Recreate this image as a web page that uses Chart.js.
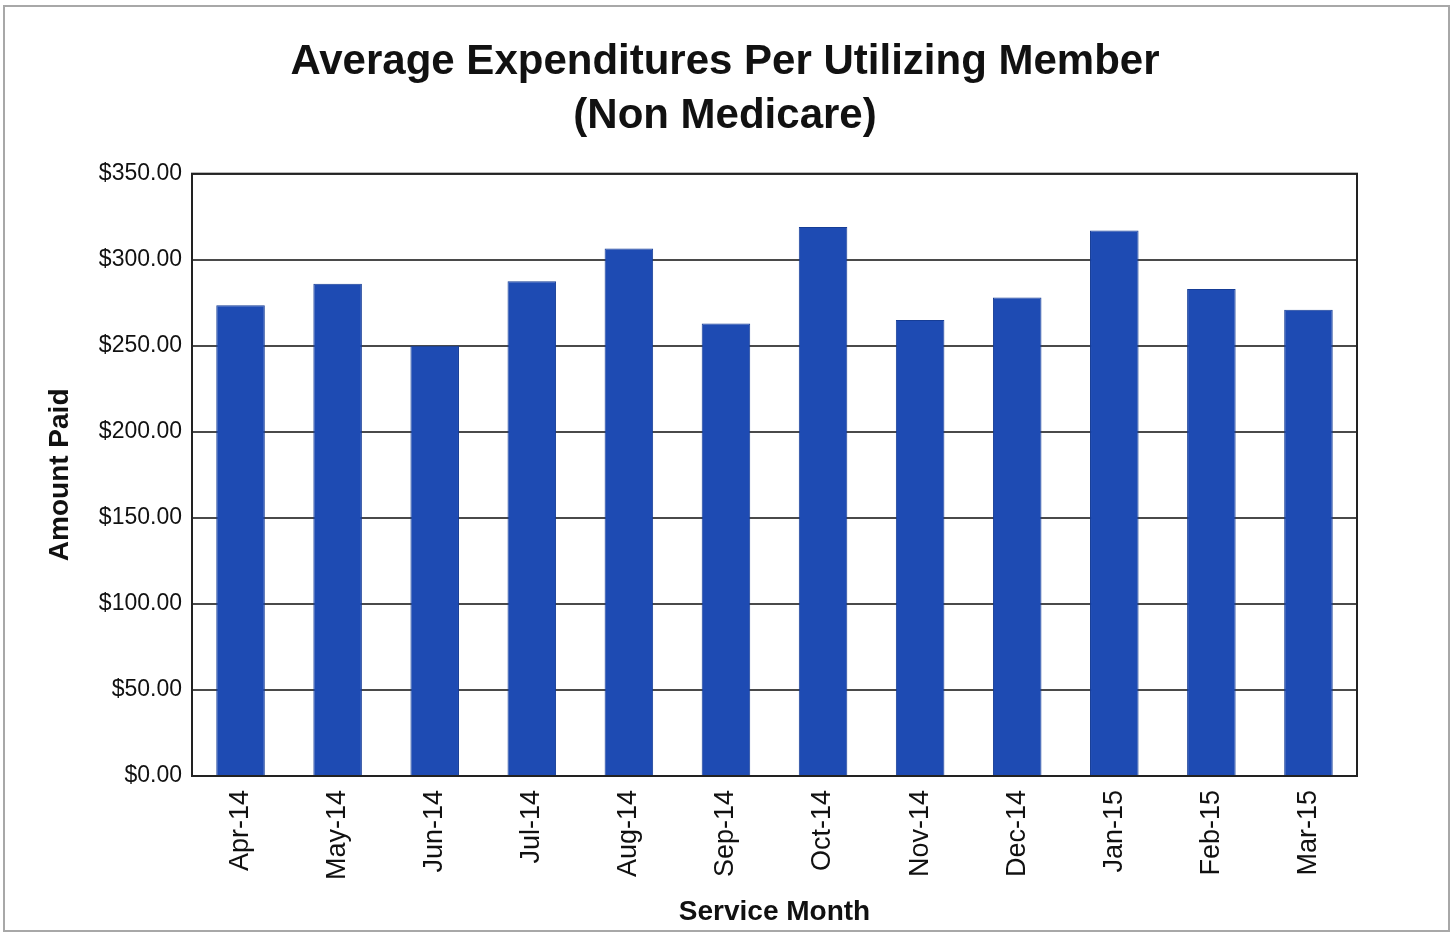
<!DOCTYPE html>
<html>
<head>
<meta charset="utf-8">
<script src="https://cdn.jsdelivr.net/npm/chart.js@4/dist/chart.umd.min.js"></script>
<style>
  html, body { margin: 0; padding: 0; background: #fff; }
  #frame {
    position: absolute; left: 3px; top: 5px;
    width: 1447px; height: 927px;
    border: 2px solid #a8a8a8; box-sizing: border-box;
  }
  #box { position: absolute; left: 0; top: 0; width: 1443px; height: 923px; }
</style>
</head>
<body>
<div id="frame"><div id="box"><canvas id="expChart"></canvas></div></div>
<script>
// service months and average paid per utilizing member
var months = ['Apr-14', 'May-14', 'Jun-14', 'Jul-14', 'Aug-14', 'Sep-14',
              'Oct-14', 'Nov-14', 'Dec-14', 'Jan-15', 'Feb-15', 'Mar-15']
var amountPaid = [273.5, 286, 250, 287.5, 306.5, 263, 319, 265, 278, 317, 283, 271]
var yTicks = [0, 50, 100, 150, 200, 250, 300, 350]

// plot frame round the chart area
const plotBorder = {
    id: 'plotBorder',
    afterDraw(chart) {
        const a = chart.chartArea
        const ctx = chart.ctx
        ctx.save()
        ctx.strokeStyle = '#222'
        ctx.lineWidth = 2
        ctx.strokeRect(a.left, a.top, a.right - a.left, a.bottom - a.top)
        ctx.restore()
    }
}

const data = {
    labels: months,
    datasets: [{
        label: 'Amount Paid',
        data: amountPaid,
        backgroundColor: '#1e4bb3',
        borderColor: '#163d96',
        borderWidth: 1,
        barPercentage: 0.5,
        categoryPercentage: 1.0
    }]
}

const config = {
    type: 'bar',
    data: data,
    plugins: [plotBorder],
    options: {
        responsive: true,
        maintainAspectRatio: false,
        animation: false,
        // left padding also centres the main title over the plot like the original
        layout: { padding: { left: 88, right: 91, top: 0, bottom: 1 } },
        plugins: {
            legend: { display: false },
            tooltip: { enabled: false },
            title: {
                display: true,
                text: ['Average Expenditures Per Utilizing Member', '(Non Medicare)'],
                color: '#111',
                font: { family: 'Liberation Sans, Arial, sans-serif', size: 42, weight: 'bold', lineHeight: 1.27 },
                padding: { top: 29, bottom: 31 }
            }
        },
        scales: {
            x: {
                grid: { display: false, drawTicks: false },
                border: { display: true, color: '#222', width: 2 },
                ticks: {
                    color: '#111',
                    maxRotation: 90, minRotation: 90,
                    padding: 14,
                    font: { family: 'Liberation Sans, Arial, sans-serif', size: 27 }
                },
                title: {
                    display: true,
                    text: 'Service Month',
                    color: '#111',
                    padding: { top: 0, bottom: 0 },
                    font: { family: 'Liberation Sans, Arial, sans-serif', size: 28, weight: 'bold' }
                },
                afterFit: function (scale) { scale.height = 153 }
            },
            y: {
                min: 0, max: 350,
                afterBuildTicks: function (scale) { scale.ticks = yTicks.map(v => ({ value: v })) },
                grid: { color: '#4a4a4a', lineWidth: 2, drawTicks: false },
                border: { display: true, color: '#222', width: 2 },
                ticks: {
                    color: '#111',
                    padding: 10,
                    font: { family: 'Liberation Sans, Arial, sans-serif', size: 23 },
                    callback: function (v) { return '$' + Number(v).toFixed(2) }
                },
                title: {
                    display: true,
                    text: 'Amount Paid',
                    color: '#111',
                    padding: { top: -50, bottom: 4 },
                    font: { family: 'Liberation Sans, Arial, sans-serif', size: 28, weight: 'bold' }
                },
                afterFit: function (scale) { scale.width = 99 }
            }
        }
    }
}

const myChart = new Chart(document.getElementById('expChart'), config)
</script>
</body>
</html>
